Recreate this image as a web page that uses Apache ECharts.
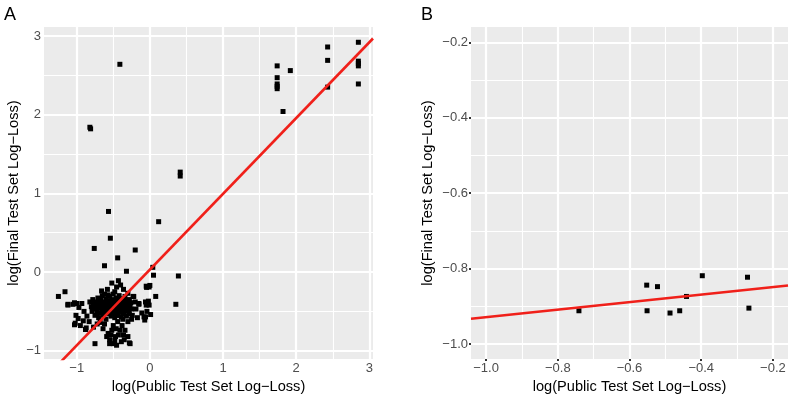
<!DOCTYPE html>
<html><head><meta charset="utf-8">
<script src="https://cdn.jsdelivr.net/npm/echarts@6/dist/echarts.min.js"></script>
<style>html,body{margin:0;padding:0;background:#fff}#c{width:795px;height:401px}</style>
</head><body><div id="c"></div>
<script>
// Panel A: [log(public log-loss), log(final log-loss)]
const pointsA = [
 [-0.41,2.64],[-0.82,1.84],[-0.81,1.82],[0.415,1.27],[0.415,1.22],[0.12,0.64],[-0.565,0.77],[-0.54,0.43],[-0.76,0.30],[-0.20,0.28],[-0.44,0.18],[-0.62,0.08],[-0.32,0.01],[0.04,0.06],[0.05,-0.04],[0.39,-0.05],[0.355,-0.41],[0.08,-0.31],[-0.05,-0.18],[0.0,-0.17],[-0.02,-0.37],[-0.01,-0.42],[0.01,-0.54],[-0.06,-0.57],[-0.07,-0.61],[-1.25,-0.31],[-1.16,-0.25],[-1.12,-0.41],[-1.05,-0.41],[-1.0,-0.40],[-1.01,-0.55],[-1.02,-0.65],[-0.98,-0.59],[-0.88,-0.73],[-0.83,-0.63],[-0.75,-0.91],[-0.55,-0.91],[-0.48,-0.87],[-0.28,-0.90],[-0.36,-0.80],[-0.15,-0.41],[-0.22,-0.31],
 [1.74,2.62],[1.74,2.47],[1.74,2.39],[1.74,2.36],[1.74,2.33],[1.82,2.04],[1.92,2.56],[2.43,2.86],[2.43,2.69],[2.43,2.35],[2.85,2.92],[2.85,2.68],[2.85,2.65],[2.85,2.62],[2.85,2.39],
 [-0.52,-0.14],[-0.43,-0.11],[-0.455,-0.19],[-0.40,-0.165],[-0.01,-0.19],[-0.045,-0.195],[-0.58,-0.22],[-0.66,-0.24],[-0.36,-0.22],[-0.30,-0.27],[-0.48,-0.25],[-0.62,-0.28],
 [-0.59,-0.82],[-0.55,-0.86],[-0.50,-0.91],[-0.455,-0.93],[-0.39,-0.885],[-0.30,-0.82],[-0.27,-0.91],[-0.41,-0.74],[-0.68,-0.64],[-0.64,-0.72],[-0.57,-0.78],[-0.52,-0.74],[-0.46,-0.72],[-0.43,-0.80],[-0.34,-0.74],[-0.30,-0.63],[-0.62,-0.66],[-0.50,-0.68],[-0.38,-0.68],[-0.44,-0.63],[-0.87,-0.71],[-0.77,-0.70],[-0.72,-0.66],[-0.35,-0.86],[-0.53,-0.80],[-0.47,-0.82],
 [-0.15,-0.40],[-0.23,-0.31],[-0.06,-0.38],[-0.05,-0.42],[-0.04,-0.50],[-0.11,-0.52],[-0.08,-0.57],[-0.19,-0.47],[-0.24,-0.55],[-0.20,-0.38],[-0.25,-0.60],[-0.17,-0.58],
 [-1.03,-0.39],[-1.12,-0.42],[-0.97,-0.45],[-0.93,-0.40],[-0.90,-0.50],[-0.86,-0.56],[-0.91,-0.62],[-0.95,-0.68],[-1.03,-0.67],
 [-0.82,-0.38],[-0.80,-0.44],[-0.79,-0.50],[-0.78,-0.35],[-0.77,-0.41],[-0.76,-0.47],[-0.75,-0.55],[-0.74,-0.38],[-0.73,-0.43],[-0.72,-0.49],[-0.71,-0.33],[-0.70,-0.40],[-0.70,-0.58],[-0.69,-0.45],[-0.68,-0.52],[-0.67,-0.36],[-0.66,-0.42],[-0.65,-0.48],[-0.65,-0.30],[-0.64,-0.55],[-0.63,-0.39],[-0.62,-0.45],[-0.61,-0.50],[-0.60,-0.34],[-0.60,-0.60],[-0.59,-0.42],[-0.58,-0.47],[-0.57,-0.37],[-0.57,-0.53],[-0.56,-0.44],[-0.55,-0.31],[-0.55,-0.49],[-0.54,-0.40],[-0.53,-0.56],[-0.52,-0.45],[-0.52,-0.35],[-0.51,-0.51],[-0.50,-0.42],[-0.50,-0.28],[-0.49,-0.47],[-0.48,-0.38],[-0.48,-0.58],[-0.47,-0.44],[-0.46,-0.52],[-0.46,-0.33],[-0.45,-0.41],[-0.44,-0.48],[-0.44,-0.36],[-0.43,-0.55],[-0.42,-0.43],[-0.42,-0.30],[-0.41,-0.50],[-0.40,-0.39],[-0.40,-0.46],[-0.39,-0.57],[-0.38,-0.34],[-0.38,-0.42],[-0.37,-0.49],[-0.36,-0.38],[-0.36,-0.53],[-0.35,-0.45],[-0.34,-0.31],[-0.34,-0.41],[-0.33,-0.50],[-0.32,-0.37],[-0.32,-0.56],[-0.31,-0.44],[-0.30,-0.40],[-0.29,-0.48],[-0.28,-0.35],[-0.28,-0.53],[-0.27,-0.43],[-0.26,-0.39],[-0.25,-0.47],[-0.62,-0.38],[-0.58,-0.41],[-0.54,-0.46],[-0.50,-0.37],[-0.47,-0.40],[-0.43,-0.45],[-0.39,-0.44],[-0.35,-0.35],[-0.31,-0.47],[-0.66,-0.46],[-0.70,-0.36],[-0.74,-0.46],[-0.53,-0.43],[-0.45,-0.55],[-0.41,-0.37],[-0.37,-0.60],[-0.57,-0.29],[-0.63,-0.50],[-0.49,-0.53],[-0.33,-0.43],[-0.29,-0.38],[-0.44,-0.42],[-0.51,-0.40],[-0.56,-0.38],[-0.60,-0.45],[-0.68,-0.41],[-0.72,-0.53]
];
// Panel B
const pointsB = [
 [-0.741,-0.912],[-0.552,-0.844],[-0.551,-0.912],[-0.522,-0.848],[-0.487,-0.918],[-0.46,-0.912],[-0.441,-0.874],[-0.397,-0.819],[-0.271,-0.823],[-0.267,-0.905]
];
const fitA = {slope: 0.963, intercept: 0.031};
const fitB = {slope: 0.100, intercept: -0.829};
const rangeAx = [-1.447, 3.05], rangeAy = [-1.105, 3.114];
const rangeBx = [-1.042, -0.158], rangeBy = [-1.040, -0.159];
const majorA = [-1, 0, 1, 2, 3], minorA = [-0.5, 0.5, 1.5, 2.5];
const majorB = [-1.0, -0.8, -0.6, -0.4, -0.2], minorB = [-0.9, -0.7, -0.5, -0.3];

const FONT = 'Liberation Sans, Arial, Helvetica, sans-serif';
const fmtA = v => (v < 0 ? '\u2212' : '') + Math.abs(v);
const fmtB = v => (v < 0 ? '\u2212' : '') + Math.abs(v).toFixed(1);

function axis(gi, range, ticks, fmt, name, gap) {
  return {
    type: 'value', gridIndex: gi, min: range[0], max: range[1],
    splitLine: {show: false}, axisLine: {show: false},
    axisTick: {show: true, customValues: ticks, length: 2, lineStyle: {color: '#333', width: 2}},
    axisLabel: {customValues: ticks, formatter: fmt, color: '#4D4D4D', fontSize: 13, fontFamily: FONT, margin: 3},
    name: name, nameLocation: 'middle', nameGap: gap,
    nameTextStyle: {color: '#000', fontSize: 14.6, fontFamily: FONT}
  };
}
function gridSeries(gi, mx, nx, my, ny) {
  const d = [];
  mx.forEach(v => d.push({xAxis: v, lineStyle: {width: 2.2}}));
  nx.forEach(v => d.push({xAxis: v, lineStyle: {width: 1.1}}));
  my.forEach(v => d.push({yAxis: v, lineStyle: {width: 2.2}}));
  ny.forEach(v => d.push({yAxis: v, lineStyle: {width: 1.1}}));
  return {
    type: 'line', xAxisIndex: gi, yAxisIndex: gi, data: [], z: 1, silent: true,
    markLine: {z: 1, silent: true, symbol: 'none', label: {show: false}, animation: false,
      lineStyle: {color: '#FFFFFF', type: 'solid'}, emphasis: {disabled: true}, data: d}
  };
}
function fitLine(fit, range) {
  return range.map(x => [x, fit.intercept + fit.slope * x]);
}

const chart = echarts.init(document.getElementById('c'), null, {renderer: 'canvas'});
chart.setOption({
  animation: false,
  backgroundColor: '#FFFFFF',
  grid: [
    {left: 44, top: 27, width: 329, height: 332, show: true, backgroundColor: '#EBEBEB', borderWidth: 0, z: 0},
    {left: 471, top: 27, width: 317, height: 332, show: true, backgroundColor: '#EBEBEB', borderWidth: 0, z: 0}
  ],
  xAxis: [
    axis(0, rangeAx, majorA, fmtA, 'log(Public Test Set Log\u2212Loss)', 20),
    axis(1, rangeBx, majorB, fmtB, 'log(Public Test Set Log\u2212Loss)', 20)
  ],
  yAxis: [
    axis(0, rangeAy, majorA, fmtA, 'log(Final Test Set Log\u2212Loss)', 23),
    axis(1, rangeBy, majorB, fmtB, 'log(Final Test Set Log\u2212Loss)', 36)
  ],
  graphic: [
    {type: 'text', left: 4, top: 6, style: {text: 'A', fontSize: 18, fontFamily: FONT, fill: '#000'}},
    {type: 'text', left: 421, top: 6, style: {text: 'B', fontSize: 18, fontFamily: FONT, fill: '#000'}}
  ],
  series: [
    gridSeries(0, majorA, minorA, majorA, minorA),
    gridSeries(1, majorB, minorB, majorB, minorB),
    {type: 'scatter', xAxisIndex: 0, yAxisIndex: 0, data: pointsA, symbol: 'rect', symbolSize: 5,
     itemStyle: {color: '#000', opacity: 1}, z: 3, silent: true},
    {type: 'scatter', xAxisIndex: 1, yAxisIndex: 1, data: pointsB, symbol: 'rect', symbolSize: 5,
     itemStyle: {color: '#000', opacity: 1}, z: 3, silent: true},
    {type: 'line', xAxisIndex: 0, yAxisIndex: 0, data: fitLine(fitA, rangeAx), symbol: 'none', clip: true,
     lineStyle: {color: '#F0201A', width: 2.6}, z: 4, silent: true},
    {type: 'line', xAxisIndex: 1, yAxisIndex: 1, data: fitLine(fitB, rangeBx), symbol: 'none', clip: true,
     lineStyle: {color: '#F0201A', width: 2.6}, z: 4, silent: true}
  ]
});
</script></body></html>
